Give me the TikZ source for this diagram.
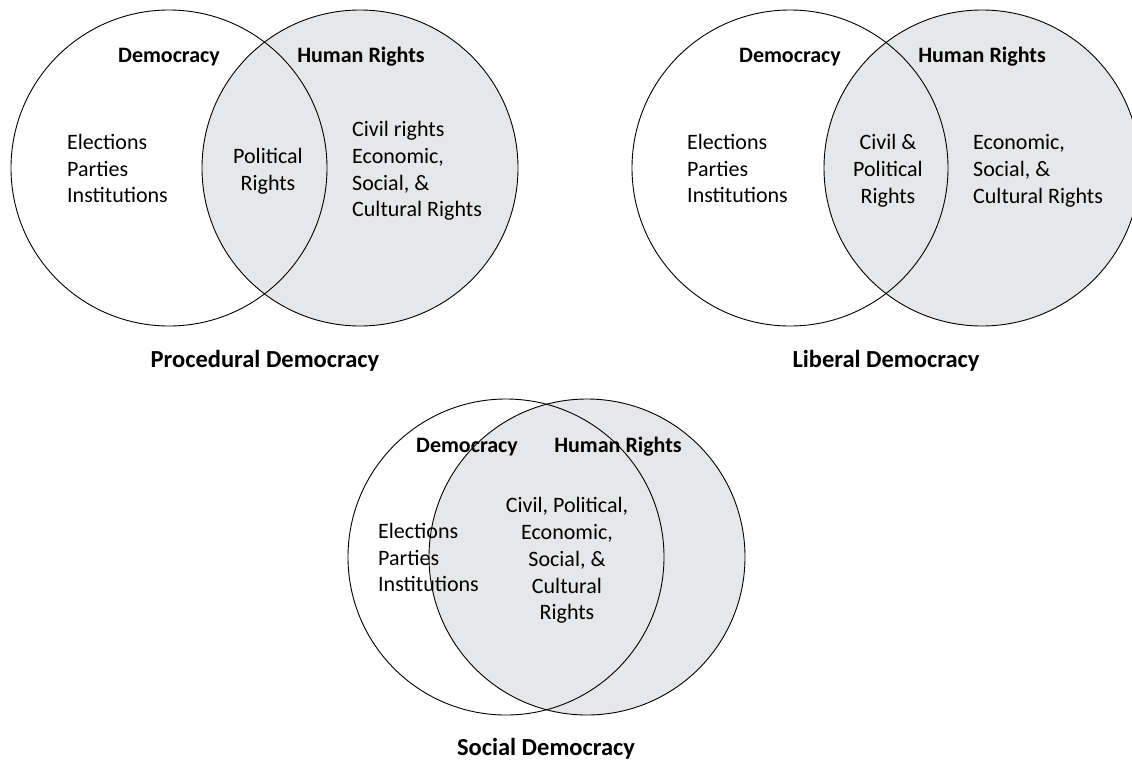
\documentclass[tikz,border=0pt]{standalone}
\usepackage{fontspec}
\setmainfont{Carlito}
\definecolor{hrgray}{HTML}{E6E7E8}
\tikzset{
  venn/.style={circle, draw, line width=0.9pt, minimum size=316pt, inner sep=0pt},
  head/.style={font=\fontsize{22}{26.8}\selectfont\bfseries, inner sep=0pt},
  body/.style={font=\fontsize{22}{26.8}\selectfont, inner sep=0pt},
  caption/.style={font=\fontsize{24.5}{29}\selectfont\bfseries, inner sep=0pt}
}
\begin{document}
\begin{tikzpicture}[x=1pt,y=-1pt]
  \useasboundingbox (0,0) rectangle (1132,761);
  \node[venn, fill=hrgray] (hr1) at (360,168) {};
  \node[venn] (dem1) at (169,168) {};
  \node[venn, fill=hrgray] (hr2) at (982,168) {};
  \node[venn] (dem2) at (790,168) {};
  \node[venn, fill=hrgray] (hr3) at (587,557) {};
  \node[venn] (dem3) at (506,557) {};
  \begin{scope}[every node/.append style={anchor=base}]
    \node[head] (dem1lab) at (169,62) {Democracy};
    \node[head] (hr1lab) at (361,62) {Human Rights};
    \node[head] (dem2lab) at (790,62) {Democracy};
    \node[head] (hr2lab) at (982,62) {Human Rights};
    \node[head] (dem3lab) at (467,452) {Democracy};
    \node[head] (hr3lab) at (618,452) {Human Rights};
    \node[caption] (proc) at (265,367) {Procedural Democracy};
    \node[caption] (lib) at (886,367) {Liberal Democracy};
    \node[caption] (soc) at (546,755) {Social Democracy};
  \end{scope}
  \node[body, align=left, anchor=west] (dem1txt) at (67,168.5) {Elections\\Parties\\Institutions};
  \node[body, align=center] (mid1txt) at (268,171) {Political\\Rights};
  \node[body, align=left, anchor=west] (hr1txt) at (352,171) {Civil rights\\Economic,\\Social, \&\\Cultural Rights};
  \node[body, align=left, anchor=west] (dem2txt) at (687,168.5) {Elections\\Parties\\Institutions};
  \node[body, align=center] (mid2txt) at (888,171) {Civil \&\\Political\\Rights};
  \node[body, align=left, anchor=west] (hr2txt) at (973,171) {Economic,\\Social, \&\\Cultural Rights};
  \node[body, align=left, anchor=west] (dem3txt) at (378,557.5) {Elections\\Parties\\Institutions};
  \node[body, align=center] (mid3txt) at (567,560.5) {Civil, Political,\\Economic,\\Social, \&\\Cultural\\Rights};
\end{tikzpicture}
\end{document}
